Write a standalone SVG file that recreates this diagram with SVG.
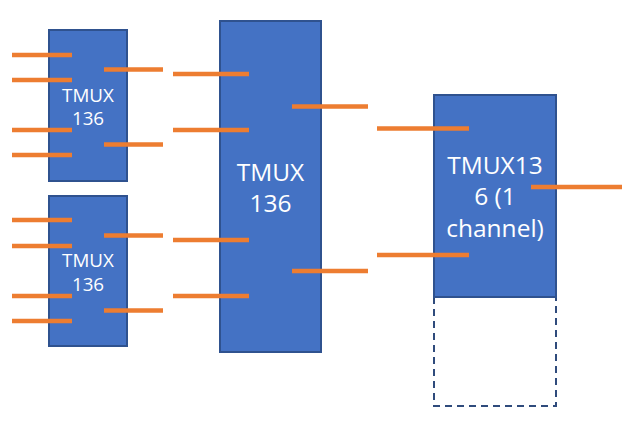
<svg xmlns="http://www.w3.org/2000/svg" width="625" height="430" viewBox="0 0 625 430">
<style>
.box{fill:#4472C4;stroke:#2F528F;stroke-width:2}
.dash{fill:none;stroke:#2F4B7C;stroke-width:2;stroke-dasharray:7,5}
.w{stroke:#ED7D31;stroke-width:4.5;fill:none}
.t{fill:#FFFFFF;font-family:"Open Sans","Liberation Sans",sans-serif;text-anchor:middle}
.s{font-size:18.8px}
.b{font-size:24.5px}
</style>
<rect x="0" y="0" width="625" height="430" fill="#FFFFFF"/>
<g id="mux1">
<rect class="box" x="49" y="30" width="78" height="151"/>
<text class="t s" x="88" y="101.5">TMUX</text>
<text class="t s" x="88" y="125">136</text>
</g>
<g id="mux2">
<rect class="box" x="49" y="196" width="78" height="150"/>
<text class="t s" x="88" y="266.5">TMUX</text>
<text class="t s" x="88" y="290.5">136</text>
</g>
<g id="mux3">
<rect class="box" x="220" y="21" width="101" height="331"/>
<text class="t b" x="270.5" y="180.5">TMUX</text>
<text class="t b" x="270.5" y="211.5">136</text>
</g>
<g id="mux4">
<rect class="dash" x="434" y="296" width="122" height="110"/>
<rect class="box" x="434" y="95" width="122" height="202"/>
<text class="t b" x="495" y="173.5">TMUX13</text>
<text class="t b" x="495" y="205">6 (1</text>
<text class="t b" x="495" y="236.5">channel)</text>
</g>
<g id="connectors">
<line class="w" x1="12" y1="55" x2="72" y2="55"/>
<line class="w" x1="12" y1="80" x2="72" y2="80"/>
<line class="w" x1="12" y1="130" x2="72" y2="130"/>
<line class="w" x1="12" y1="155" x2="72" y2="155"/>
<line class="w" x1="104" y1="69.5" x2="163" y2="69.5"/>
<line class="w" x1="104" y1="144.5" x2="163" y2="144.5"/>
<line class="w" x1="12" y1="220" x2="72" y2="220"/>
<line class="w" x1="12" y1="246" x2="72" y2="246"/>
<line class="w" x1="12" y1="296" x2="72" y2="296"/>
<line class="w" x1="12" y1="321" x2="72" y2="321"/>
<line class="w" x1="104" y1="235.5" x2="163" y2="235.5"/>
<line class="w" x1="104" y1="310.5" x2="163" y2="310.5"/>
<line class="w" x1="173" y1="74" x2="249" y2="74"/>
<line class="w" x1="173" y1="130" x2="249" y2="130"/>
<line class="w" x1="173" y1="240" x2="249" y2="240"/>
<line class="w" x1="173" y1="296" x2="249" y2="296"/>
<line class="w" x1="292" y1="106.5" x2="368" y2="106.5"/>
<line class="w" x1="292" y1="271" x2="368" y2="271"/>
<line class="w" x1="377" y1="128.5" x2="469" y2="128.5"/>
<line class="w" x1="377" y1="255" x2="469" y2="255"/>
<line class="w" x1="531" y1="187" x2="622" y2="187"/>
</g>
</svg>
